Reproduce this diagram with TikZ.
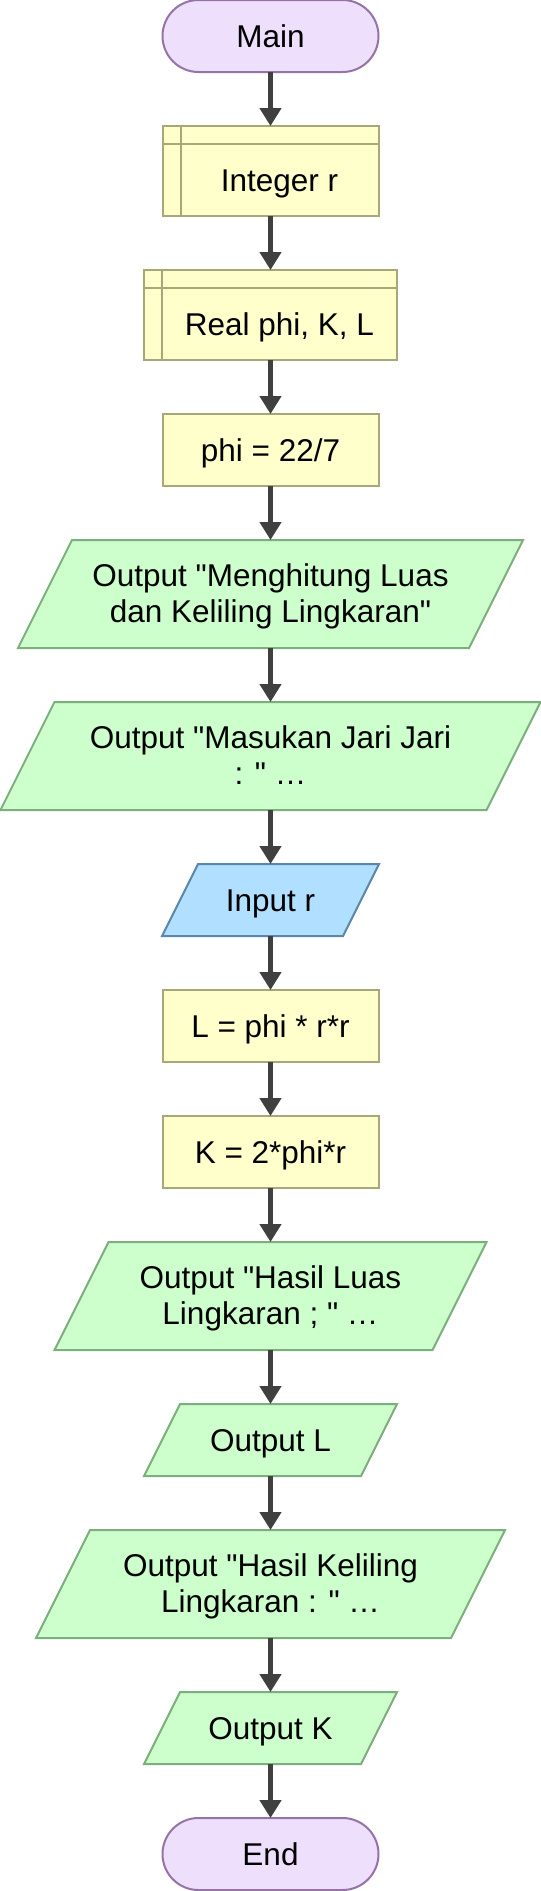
\documentclass[tikz,border=0pt]{standalone}
\usepackage{fontspec}
\setmainfont{Liberation Sans}[Ligatures=TeXOff]
\usetikzlibrary{shapes.misc,backgrounds,arrows.meta}
\definecolor{termfill}{HTML}{EEDFFC}
\definecolor{termline}{HTML}{9673A6}
\definecolor{procfill}{HTML}{FFFFCC}
\definecolor{procline}{HTML}{A8A77A}
\definecolor{infill}{HTML}{B1DFFF}
\definecolor{inline}{HTML}{5B87AA}
\definecolor{outfill}{HTML}{CCFFCC}
\definecolor{outline}{HTML}{7DAE7D}
\definecolor{arrowc}{HTML}{404040}
\newcommand\twol[2]{\begin{tabular}{@{}c@{}}\rule{0pt}{30.8pt}#1\\#2\end{tabular}}
\begin{document}
\begin{tikzpicture}[x=1pt,y=-1pt,
  every node/.style={font=\fontsize{31.5}{36}\selectfont, inner sep=0pt, outer sep=0pt},
  oneline/.style={text height=22.5pt, text depth=0pt},
  term/.style={rounded rectangle, draw=termline, fill=termfill, line width=2pt, minimum width=216pt, minimum height=72pt, oneline},
  proc/.style={rectangle, draw=procline, fill=procfill, line width=2pt, minimum width=216pt, minimum height=72pt, oneline},
  decl/.style={proc, minimum height=90pt, text height=40.5pt},
  iobox/.style={rectangle, minimum width=#1},
  outshape/.style={draw=outline, fill=outfill, line width=2pt, line join=miter},
  inshape/.style={draw=inline, fill=infill, line width=2pt, line join=miter},
  flow/.style={draw=arrowc, line width=4.5pt, -{Triangle[length=18pt,width=21pt]}}
]
\useasboundingbox (0,0) rectangle (541,1891);

\node[term] (main) at (270.5,36) {Main};
\node[decl] (d1) at (270.5,171) {\hspace*{18pt}Integer r};
\node[decl, minimum width=253pt] (d2) at (270.5,315) {\hspace*{18pt}Real phi, K, L};
\node[proc] (a1) at (270.5,450) {phi = 22/7};
\node[iobox=451pt, minimum height=108pt] (o1) at (270.5,594) {\twol{Output "Menghitung Luas}{dan Keliling Lingkaran"}};
\node[iobox=486pt, minimum height=108pt] (o2) at (270.5,756) {\twol{Output "Masukan Jari Jari}{: " …}};
\node[iobox=181pt, minimum height=72pt, oneline] (i1) at (270.5,900) {Input r};
\node[proc] (a2) at (270.5,1026) {L = phi * r*r};
\node[proc] (a3) at (270.5,1152) {K = 2*phi*r};
\node[iobox=378pt, minimum height=108pt] (o3) at (270.5,1296) {\twol{Output "Hasil Luas}{Lingkaran ; " …}};
\node[iobox=217pt, minimum height=72pt, oneline] (o4) at (270.5,1440) {Output L};
\node[iobox=415pt, minimum height=108pt] (o5) at (270.5,1584) {\twol{Output "Hasil Keliling}{Lingkaran : " …}};
\node[iobox=217pt, minimum height=72pt, oneline] (o6) at (270.5,1728) {Output K};
\node[term] (fin) at (270.5,1854) {End};

\begin{scope}[on background layer]
\foreach \n/\s/\st in {o1/27/outshape, o2/27/outshape, i1/18/inshape, o3/27/outshape, o4/18/outshape, o5/27/outshape, o6/18/outshape}
  \draw[\st] ([xshift=\s pt]\n.north west) -- ([xshift=\s pt]\n.north east) -- ([xshift=-\s pt]\n.south east) -- ([xshift=-\s pt]\n.south west) -- cycle;
\end{scope}

\foreach \n in {d1,d2}{
  \draw[procline, line width=2pt] ([xshift=18pt]\n.north west) -- ([xshift=18pt]\n.south west);
  \draw[procline, line width=2pt] ([yshift=-18pt]\n.north west) -- ([yshift=-18pt]\n.north east);
}

\foreach \a/\b in {main/d1, d1/d2, d2/a1, a1/o1, o1/o2, o2/i1, i1/a2, a2/a3, a3/o3, o3/o4, o4/o5, o5/o6, o6/fin}
  \draw[flow] (\a.south) -- (\b.north);
\end{tikzpicture}
\end{document}
